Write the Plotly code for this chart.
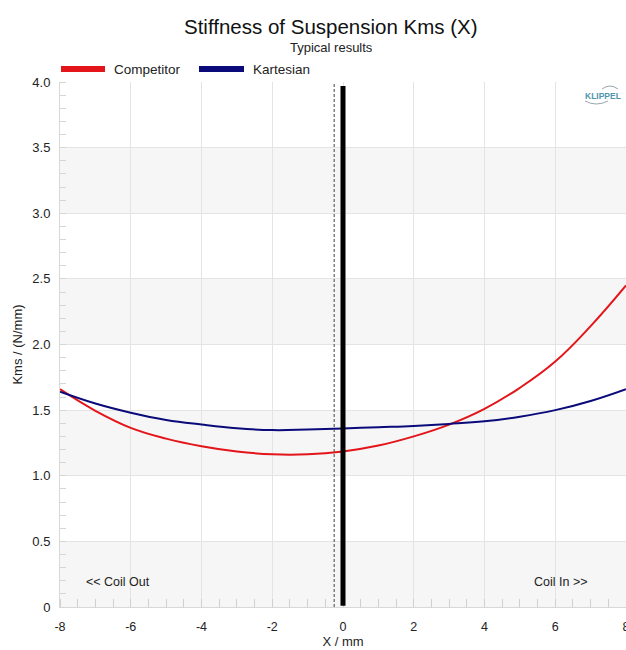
import plotly.graph_objects as go

# ---- data ----
x_mm = [-8, -7, -6, -5, -4, -3, -2, -1, 0, 1, 2, 3, 4, 5, 6, 7, 8]
kms_competitor = [1.66, 1.495, 1.365, 1.283, 1.225, 1.185, 1.163, 1.163, 1.185, 1.23, 1.30, 1.39, 1.51, 1.67, 1.87, 2.14, 2.45]
kms_kartesian = [1.64, 1.55, 1.48, 1.425, 1.39, 1.362, 1.348, 1.352, 1.36, 1.37, 1.38, 1.395, 1.415, 1.45, 1.50, 1.57, 1.66]
series_names = ["Competitor", "Kartesian"]
series_colors = ["#e3151a", "#0a0a7a"]
x_ticks = [-8, -6, -4, -2, 0, 2, 4, 6, 8]
x_ticklabels = ["-8", "-6", "-4", "-2", "0", "2", "4", "6", "8"]
y_ticks = [0, 0.5, 1.0, 1.5, 2.0, 2.5, 3.0, 3.5, 4.0]
y_ticklabels = ["0", "0.5", "1.0", "1.5", "2.0", "2.5", "3.0", "3.5", "4.0"]
rest_position = 0
dashed_position = -0.25

font_family = "Liberation Sans, Arial, sans-serif"

fig = go.Figure()
for name, vals, col in zip(series_names, [kms_competitor, kms_kartesian], series_colors):
    fig.add_trace(go.Scatter(x=x_mm, y=vals, mode="lines", name=name,
                             line=dict(color=col, width=2, shape="spline", smoothing=1.2),
                             showlegend=False))

plot_l, plot_w, plot_b, plot_h = 60, 566, 607, 525


def px(x):
    return (x - plot_l) / plot_w


def py(y):
    return (plot_b - y) / plot_h


shapes = []
# alternating bands
for i in range(0, len(y_ticks) - 1):
    if i % 2 == 0:
        shapes.append(dict(type="rect", xref="paper", yref="y", x0=0, x1=1,
                           y0=y_ticks[i], y1=y_ticks[i + 1], fillcolor="#f6f6f6",
                           line=dict(width=0), layer="below"))
# dashed line
shapes.append(dict(type="line", xref="x", yref="paper", x0=dashed_position, x1=dashed_position,
                   y0=0, y1=1, line=dict(color="#444444", width=1, dash="3px,2px")))
# thick rest line
shapes.append(dict(type="line", xref="x", yref="y", x0=rest_position, x1=rest_position,
                   y0=0.01, y1=3.97, line=dict(color="black", width=5)))
# manual legend bars
legend_x = [[61, 105], [199, 244]]
for (a, b), col in zip(legend_x, series_colors):
    shapes.append(dict(type="line", xref="paper", yref="paper",
                       x0=px(a), x1=px(b), y0=py(69), y1=py(69),
                       line=dict(color=col, width=6)))
# logo arcs
shapes.append(dict(type="path", xref="paper", yref="paper",
                   path=f"M {px(602)} {py(89)} Q {px(610)} {py(83)} {px(618)} {py(89)}",
                   line=dict(color="#9aa6ad", width=1)))
shapes.append(dict(type="path", xref="paper", yref="paper",
                   path=f"M {px(585)} {py(101)} Q {px(596)} {py(107)} {px(608)} {py(101)}",
                   line=dict(color="#9aa6ad", width=1)))

annotations = [
    dict(text="Stiffness of Suspension Kms (X)", xref="paper", yref="paper",
         x=px(331), y=py(27), xanchor="center", yanchor="middle", showarrow=False,
         font=dict(size=20.5, color="#111111", family=font_family)),
    dict(text="Typical results", xref="paper", yref="paper",
         x=px(331), y=py(48), xanchor="center", yanchor="middle", showarrow=False,
         font=dict(size=13, color="#222222", family=font_family)),
    dict(text="<< Coil Out", x=-6.35, y=0.19, xref="x", yref="y", showarrow=False,
         xanchor="center", yanchor="middle",
         font=dict(size=12.5, color="#222222", family=font_family)),
    dict(text="Coil In >>", x=6.15, y=0.19, xref="x", yref="y", showarrow=False,
         xanchor="center", yanchor="middle",
         font=dict(size=12.5, color="#222222", family=font_family)),
    dict(text="<b>KLIPPEL</b>", xref="paper", yref="paper",
         x=px(603), y=py(96), xanchor="center", yanchor="middle", showarrow=False,
         font=dict(size=8.5, color="#4f95ad", family=font_family)),
]
for (a, b), name in zip(legend_x, series_names):
    annotations.append(dict(text=name, xref="paper", yref="paper",
                            x=px(b + 7), y=py(69),
                            xanchor="left", yanchor="middle", showarrow=False,
                            font=dict(size=13.5, color="#222222", family=font_family)))

fig.update_layout(
    width=626, height=650,
    margin=dict(l=60, r=0, t=82, b=43, autoexpand=False),
    paper_bgcolor="white", plot_bgcolor="white",
    font=dict(family=font_family, size=12, color="#333333"),
    shapes=shapes, annotations=annotations, showlegend=False,
    xaxis=dict(range=[-8, 8], tickvals=x_ticks, ticktext=x_ticklabels, showgrid=True, gridcolor="#e4e4e4",
               zeroline=False, showline=True, linecolor="#d8d8d8", ticks="",
               ticklabeloverflow="allow", automargin=False, ticklabelstandoff=8,
               tickfont=dict(size=12.5, color="#222222"),
               minor=dict(ticks="inside", dtick=0.5, tick0=0, ticklen=8, tickcolor="#d0d0d0", showgrid=False),
               title=dict(text="X / mm", font=dict(size=13, color="#222222"), standoff=2)),
    yaxis=dict(range=[0, 4.0], tickvals=y_ticks, ticktext=y_ticklabels, showgrid=True,
               gridcolor="#e4e4e4", zeroline=False, showline=True, linecolor="#d8d8d8",
               ticks="", tickfont=dict(size=13, color="#222222"), automargin=False,
               ticklabelstandoff=6,
               minor=dict(ticks="inside", dtick=0.1, tick0=0, ticklen=6, tickcolor="#d6d6d6", showgrid=False),
               title=dict(text="Kms / (N/mm)", font=dict(size=13, color="#222222"), standoff=6)),
)

fig.write_html("out.html")
